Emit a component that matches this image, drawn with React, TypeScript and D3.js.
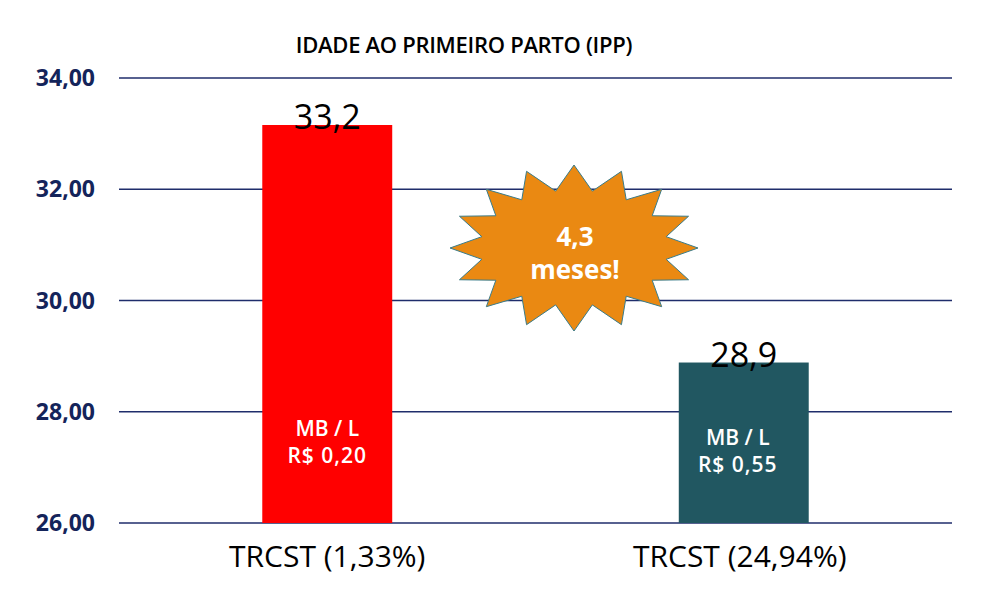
import React from "react";
import * as d3 from "d3";

const categories = ["TRCST (1,33%)", "TRCST (24,94%)"];
const values = [33.155, 28.885];
const valueLabels = ["33,2", "28,9"];
const innerLine1 = ["MB / L", "MB / L"];
const innerLine2 = ["R$ 0,20", "R$ 0,55"];
const barColors = ["#FF0000", "#215761"];
const yTicks = [26, 28, 30, 32, 34];
const yTickLabels = ["26,00", "28,00", "30,00", "32,00", "34,00"];
const title = "IDADE AO PRIMEIRO PARTO (IPP)";
const burstText = ["4,3", "meses!"];

const W = 1000;
const H = 615;
const FONT = "'Open Sans', sans-serif";

export default function App() {
  const x = d3.scaleBand<string>().domain(categories).range([119, 952]).paddingInner(0.688).paddingOuter(0.344);
  const y = d3.scaleLinear().domain([26, 34]).range([523, 78]);

  // starburst
  const cx = 574, cy = 248, rxO = 124, ryO = 83, rxI = 94, ryI = 58, n = 16;
  const pts: [number, number][] = [];
  for (let i = 0; i < n * 2; i++) {
    const a = -Math.PI / 2 + (i * Math.PI) / n;
    const outer = i % 2 === 0;
    pts.push([cx + Math.cos(a) * (outer ? rxO : rxI), cy + Math.sin(a) * (outer ? ryO : ryI)]);
  }
  const burst = d3.line()(pts.concat([pts[0]])) || "";

  return (
    <svg width={W} height={H} style={{ position: "absolute", left: 0, top: 0, background: "#fff" }} fontFamily={FONT}>
      <rect width={W} height={H} fill="#fff" />
      <text x={464} y={53} textAnchor="middle" fontSize={22} fontWeight={600} fill="#000" letterSpacing={-0.3}>
        {title}
      </text>
      {yTicks.map((t, i) => (
        <g key={t}>
          <line x1={119} x2={952} y1={y(t)} y2={y(t)} stroke="#1F2D6B" strokeWidth={1.3} />
          <text x={95} y={y(t) + 8} textAnchor="end" fontSize={23} fontWeight={700} fill="#14245A">
            {yTickLabels[i]}
          </text>
        </g>
      ))}
      {categories.map((c, i) => {
        const bx = x(c)!;
        const bw = x.bandwidth();
        const mid = bx + bw / 2;
        return (
          <g key={c}>
            <rect x={bx} y={y(values[i])} width={bw} height={y(26) - y(values[i])} fill={barColors[i]} />
            <text x={mid} y={y(values[i]) + 4} textAnchor="middle" fontSize={34} fill="#000">
              {valueLabels[i]}
            </text>
            <text x={mid - (i === 1 ? 6 : 0)} y={y(values[i]) + (i === 0 ? 311 : 82)} textAnchor="middle" fontSize={21} fontWeight={600} fill="#fff">
              {innerLine1[i]}
            </text>
            <text x={mid - (i === 1 ? 6 : 0)} y={y(values[i]) + (i === 0 ? 338 : 109)} textAnchor="middle" fontSize={21} fontWeight={600} fill="#fff" letterSpacing={1}>
              {innerLine2[i]}
            </text>
            <text x={mid - (i === 1 ? 4 : 0)} y={567} textAnchor="middle" fontSize={30} fill="#000">
              {c}
            </text>
          </g>
        );
      })}
      <path d={burst} fill="#EA8912" stroke="#3A7C8A" strokeWidth={1} />
      <text x={575} y={246} textAnchor="middle" fontSize={26} fontWeight={700} fill="#fff">
        {burstText[0]}
      </text>
      <text x={575} y={279} textAnchor="middle" fontSize={26} fontWeight={700} fill="#fff">
        {burstText[1]}
      </text>
    </svg>
  );
}
